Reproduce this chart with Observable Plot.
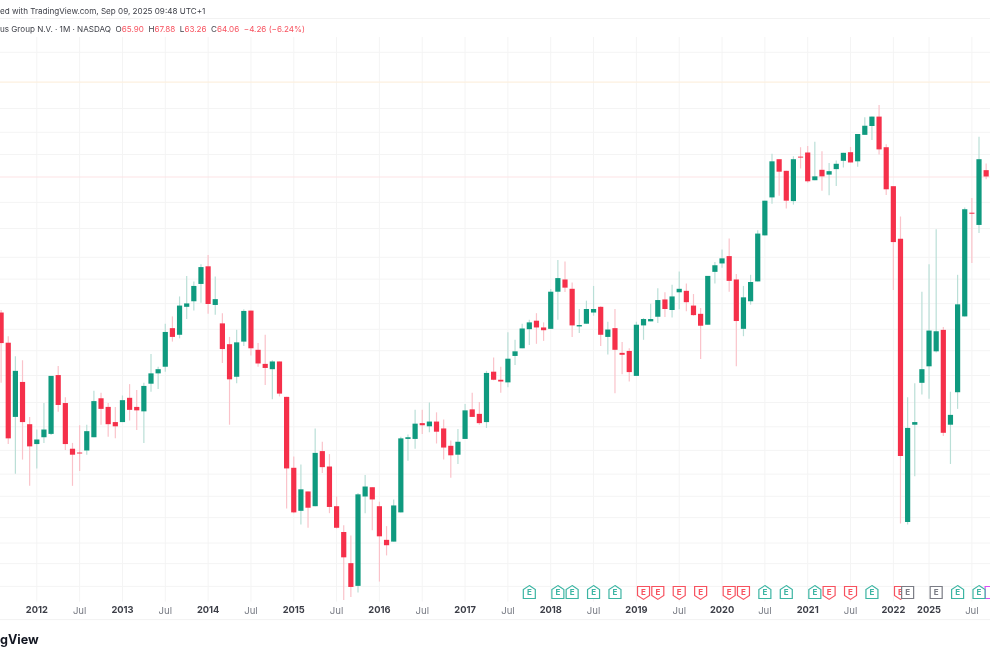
<!DOCTYPE html>
<html>
<head>
<meta charset="utf-8">
<script src="https://cdn.jsdelivr.net/npm/d3@7"></script>
<script src="https://cdn.jsdelivr.net/npm/@observablehq/plot@0.6"></script>
<style>
  html,body{margin:0;padding:0;background:#fff;width:990px;height:660px;overflow:hidden}
  #wrap{position:relative;width:990px;height:660px;font-family:Inter,"Liberation Sans",sans-serif;filter:blur(0.35px)}
  #wrap svg{position:absolute;left:0;top:0;display:block}
  .t{position:absolute;white-space:pre;font-size:8.1px;color:#3f4149;line-height:12px}
  .r{color:#f7525f}
  .logo{position:absolute;left:0;top:631px;font-size:12.6px;font-weight:700;color:#131722;line-height:18px}
</style>
</head>
<body>
<div id="wrap">
  <div id="chart"></div>
  <div class="t" style="left:0;top:4.5px">ed with TradingView.com, Sep 09, 2025 09:48 UTC+1</div>
  <div class="t" style="left:0;top:23px">us Group N.V. · 1M · NASDAQ  O<span class="r">65.90</span>  H<span class="r">67.88</span>  L<span class="r">63.26</span>  C<span class="r">64.06</span>  <span class="r">−4.26 (−6.24%)</span></div>
  <div class="logo">gView</div>
</div>
<script>
// Monthly candles; index 0 = Jan 2012, the axis jumps from May 2022 (121..124) to Jan 2025 (125)
const firstIndex = -5;
const opens = [34.9,30.5,21.9,25.6,21.2,
19.4,20.0,20.3,26.4,23.3,19.0,18.68,18.85,20.0,23.8,22.9,21.4,
21.4,23.85,22.9,22.45,25.4,26.6,27.4,32.55,31.6,35.8,36.7,39.65,
42.9,36.1,33.25,30.3,26.2,30.65,35.2,29.55,27.75,27.1,28.05,23.95,
17.45,14.4,15.7,14.7,18.8,17.55,14.7,13.1,11.4,10.3,15.35,16.0,
14.7,12.65,12.55,14.3,19.85,19.85,21.3,21.0,21.45,20.8,19.25,18.5,
19.85,22.65,22.2,21.4,26.8,25.85,25.55,28.75,29.75,32.4,33.65,32.65,
32.45,38.3,40.45,38.8,32.8,33.2,34.9,35.8,31.3,32.55,29.15,29.4,
26.3,32.95,33.55,34.25,37.0,35.3,38.2,38.45,36.0,34.7,33.05,41.85,
43.45,44.9,40.45,32.45,36.7,40.1,49.25,58.35,69.2,65.7,57.4,70.0,
71.3,63.0,66.0,64.6,66.2,68.7,71.4,68.55,77.15,80.25,83.7,73.0,
61.35,48.5,13.7,21.15,25.5,27.45,29.35,32.3,21.15,24.45,34.3,54.5,51.6,65.90];
const highs = [35.3,31.4,28.7,28.2,21.9,
20.7,23.3,26.3,27.5,23.9,19.5,21.1,21.15,24.6,24.4,23.3,22.9,
24.1,25.35,24.7,25.5,29.0,27.4,33.2,34.3,37.5,41.1,40.1,43.3,
45.1,41.0,34.8,31.3,32.3,35.4,35.2,30.45,31.6,28.2,28.05,23.95,
18.35,17.7,15.7,20.8,19.6,18.55,15.35,13.5,12.9,15.6,16.9,16.0,
15.0,13.45,15.15,20.05,20.25,22.6,22.6,23.35,22.35,21.65,19.7,20.75,
23.2,24.4,23.4,26.9,28.55,27.4,31.95,30.9,33.2,33.8,34.8,33.4,
38.75,44.1,43.85,39.9,35.45,36.8,39.3,35.9,33.5,35.45,30.6,29.75,
33.5,34.05,36.3,38.9,38.2,39.5,41.9,39.75,37.9,35.6,41.1,43.75,
46.25,48.55,41.45,39.3,41.3,50.4,57.5,70.9,69.2,65.7,70.1,73.0,
73.4,74.8,71.7,68.0,68.8,71.2,73.1,77.45,83.45,83.7,88.1,74.0,
61.35,53.6,23.9,25.45,38.3,43.3,50.6,32.7,24.5,41.3,55.75,58.2,76.5,67.88];
const lows = [25.5,19.4,17.0,18.1,16.1,
17.4,19.5,20.2,22.4,18.9,16.1,17.2,18.5,20.0,21.15,20.05,19.9,
21.4,21.55,20.65,19.5,24.5,24.8,26.8,30.65,31.1,33.9,35.2,36.45,
34.7,34.55,27.85,21.15,25.45,30.05,28.8,27.4,25.25,23.7,24.0,14.55,
14.25,13.55,13.35,14.7,17.05,14.25,13.3,9.67,9.8,10.0,14.25,13.2,
10.5,11.8,12.55,14.3,18.0,19.0,20.3,20.45,19.45,18.1,16.7,17.75,
19.85,21.9,21.15,20.85,25.8,24.4,25.0,27.6,29.75,30.2,30.35,30.75,
32.45,33.8,38.25,31.3,31.85,33.2,34.4,30.05,28.95,24.35,26.5,25.65,
26.3,30.9,33.55,33.3,34.2,34.15,35.4,35.1,34.4,28.35,33.05,39.75,
42.6,38.3,27.45,31.4,36.15,40.1,49.25,56.7,58.8,55.5,56.5,66.4,
62.3,63.0,60.1,58.9,61.4,66.7,68.2,66.9,77.15,75.4,70.7,59.0,
38.6,13.6,13.55,16.8,24.2,23.75,29.2,20.1,17.75,22.7,34.3,43.55,49.8,63.26];
const closes = [30.45,19.9,26.9,21.4,19.2,
19.8,20.7,26.3,23.1,19.4,18.5,18.6,20.55,23.5,22.7,21.2,21.0,
23.6,22.6,22.55,25.15,26.6,27.1,32.0,31.3,36.0,36.35,39.3,42.75,
36.25,37.05,29.65,25.9,30.55,35.15,29.75,27.8,27.25,28.05,24.3,17.4,
14.3,15.85,14.6,18.65,17.5,14.65,13.35,11.7,10.25,15.5,16.05,15.15,
12.85,12.35,14.75,19.9,20.0,21.25,21.1,21.45,20.5,19.1,18.45,19.6,
22.55,21.9,21.3,26.65,25.85,25.65,28.4,29.35,32.5,33.4,32.65,32.25,
38.3,40.7,39.0,32.95,33.0,35.45,35.45,31.6,32.35,29.55,28.9,26.75,
33.05,33.9,33.9,36.9,35.45,37.5,38.8,36.55,34.5,32.9,41.1,43.1,
44.45,40.2,33.6,37.35,40.0,49.65,57.5,68.55,65.45,57.5,69.2,69.7,
62.7,64.1,64.1,65.6,67.8,71.2,68.2,77.45,80.35,83.7,72.3,60.5,
47.8,18.4,20.85,21.4,27.1,32.2,32.1,20.4,22.1,36.2,55.35,54.25,69.2,64.06];

// Axis ticks
const tickIndex = [0,6,12,18,24,30,36,42,48,54,60,66,72,78,84,90,96,102,108,114,120,125,131];
const tickLabel = ["2012","Jul","2013","Jul","2014","Jul","2015","Jul","2016","Jul","2017","Jul","2018","Jul","2019","Jul","2020","Jul","2021","Jul","2022","2025","Jul"];

// Horizontal grid prices
const gridPrices = [111.8,87.0,78.2,70.8,57.2,50.9,44.76,40.6,36.4,32.45,29.5,26.4,23.4,21.0,18.9,17.0,15.4,14.0,12.5,11.4,10.3];
const lastPrice = 64.06;
const highLevel = 97.8;
const gridTop = 119.4, gridBottom = 9.6;
const paneTop = 130.0, paneBottom = 8.88;

// Earnings badges
const beatIndex = [69,73,75,78,81,102,105,109,117,129,132];
const missIndex = [85,87,90,93,97,99,111,114,121];
const pendingIndex = [122,126];
const dividendIndex = [133.7];

const bars = opens.map((o,k)=>({i:k+firstIndex,open:o,high:highs[k],low:lows[k],close:closes[k],up:closes[k]>=o}));
const ticks = tickIndex.map((i,k)=>({i,label:tickLabel[k]}));
const isYear = d=>d.label!=="Jul";
const up = bars.filter(d=>d.up), down = bars.filter(d=>!d.up);

const RED="#f5304a", GREEN="#0f9a7f", WRED="#fac3ca", WGREEN="#badfd7";

const house={draw(c,s){const r=Math.sqrt(s/Math.PI);c.moveTo(0,-r*1.15);c.lineTo(r,-r*0.5);c.lineTo(r,r);c.lineTo(-r,r);c.lineTo(-r,-r*0.5);c.closePath();}};
const shield={draw(c,s){const r=Math.sqrt(s/Math.PI);c.moveTo(-r,-r);c.lineTo(r,-r);c.lineTo(r,r*0.5);c.lineTo(0,r*1.15);c.lineTo(-r,r*0.5);c.closePath();}};
const square={draw(c,s){const r=Math.sqrt(s/Math.PI);c.moveTo(-r,-r);c.lineTo(r,-r);c.lineTo(r,r);c.lineTo(-r,r);c.closePath();}};

function badge(idx,symbol,color,label=true){
  const o={x:d=>d,frameAnchor:"bottom",dy:-68};
  return [
    Plot.dot(idx,{...o,symbol,r:6,fill:"#fff",stroke:color,strokeWidth:1.2}),
    ...(label?[Plot.text(idx,{...o,text:()=>"E",fill:color,fontSize:8,fontWeight:700,lineAnchor:"middle",textAnchor:"middle"})]:[])
  ];
}

const chart=Plot.plot({
  width:990,height:660,
  marginLeft:0,marginRight:0,marginTop:0,marginBottom:0,
  style:{background:"transparent",fontFamily:"Inter, Liberation Sans, sans-serif"},
  x:{type:"linear",domain:[-5.085,133.61],axis:null},
  y:{type:"log",domain:[7.398,140.86],axis:null},
  marks:[
    Plot.ruleY(gridPrices,{stroke:"#f4f4f4",strokeWidth:1}),
    Plot.ruleX(tickIndex,{x:d=>d,y1:gridTop,y2:gridBottom,stroke:"#f4f4f4",strokeWidth:1}),
    Plot.ruleY([paneTop,paneBottom],{stroke:"#f2f2f2",strokeWidth:1}),
    Plot.ruleY([highLevel],{stroke:"#fdf0df",strokeWidth:1.2}),
    Plot.ruleY([lastPrice],{stroke:"#fde3e6",strokeWidth:1.2}),
    Plot.ruleX(down,{x:"i",y1:"low",y2:"high",stroke:WRED,strokeWidth:1.2}),
    Plot.ruleX(up,{x:"i",y1:"low",y2:"high",stroke:WGREEN,strokeWidth:1.2}),
    Plot.ruleX(down,{x:"i",y1:"open",y2:"close",stroke:RED,strokeWidth:5.2}),
    Plot.ruleX(up,{x:"i",y1:"open",y2:"close",stroke:GREEN,strokeWidth:5.2}),
    ...badge(dividendIndex,square,"#d94ff5",false),
    ...badge(beatIndex,house,"#3db5a3"),
    ...badge(missIndex,shield,"#f7525f"),
    ...badge(pendingIndex,square,"#7a7c85"),
    Plot.text(ticks.filter(isYear),{x:"i",text:"label",frameAnchor:"bottom",dy:-50,fontSize:9.3,fontWeight:700,fill:"#3c3e47",lineAnchor:"middle",style:"letter-spacing:.5px"}),
    Plot.text(ticks.filter(d=>!isYear(d)),{x:"i",text:"label",frameAnchor:"bottom",dy:-50,fontSize:9.6,fill:"#777a83",lineAnchor:"middle"})
  ]
});
document.getElementById("chart").appendChild(chart);
</script>
</body>
</html>
